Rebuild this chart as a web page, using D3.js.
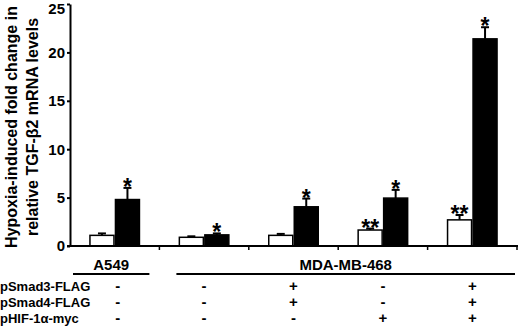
<!DOCTYPE html>
<html>
<head>
<meta charset="utf-8">
<script src="https://cdn.jsdelivr.net/npm/d3@7"></script>
<style>
  body { margin: 0; background: #fff; }
  svg text { font-family: "Liberation Sans", Arial, sans-serif; font-weight: bold; }
</style>
</head>
<body>
<svg id="chart" width="520" height="330"></svg>
<script>
// conditions (one bar pair each)
const groups = ["A549", "MDA-1", "MDA-2", "MDA-3", "MDA-4"];
const normoxia = [1.1, 0.9, 1.1, 1.65, 2.7];
const normoxiaErr = [0.2, 0.1, 0.15, 0.15, 0.5];
const hypoxia = [4.8, 1.15, 4.05, 4.95, 21.4];
const hypoxiaErr = [1.2, 0.15, 0.85, 0.85, 1.2];
const normoxiaSig = ["", "", "", "**", "**"];
const hypoxiaSig = ["*", "*", "*", "*", "*"];
const yTicks = [0, 5, 10, 15, 20, 25];

// table under the chart
const rowLabels = ["pSmad3-FLAG", "pSmad4-FLAG", "pHIF-1\u03b1-myc"];
const smad3 = ["-", "-", "+", "-", "+"];
const smad4 = ["-", "-", "+", "-", "+"];
const hif = ["-", "-", "-", "+", "+"];
const cellLines = [
    {name: "A549", from: 0, to: 0},
    {name: "MDA-MB-468", from: 1, to: 4}
];

const svg = d3.select("#chart");
const plotLeft = 70, plotRight = 517, plotTop = 4, plotBottom = 246;

const x = d3.scaleBand().domain(groups).range([plotLeft, plotRight]);
const bw = x.bandwidth();
const pairW = 51;
const x1 = d3.scaleBand().domain(["n", "h"]).range([(bw - pairW) / 2, (bw + pairW) / 2]);
const y = d3.scaleLinear().domain([0, 25]).range([plotBottom, plotTop]);

// data rows for bars
let bars = [];
groups.forEach(function(g, i) {
    bars.push({g: g, k: "n", v: normoxia[i], e: normoxiaErr[i], s: normoxiaSig[i]});
    bars.push({g: g, k: "h", v: hypoxia[i], e: hypoxiaErr[i], s: hypoxiaSig[i]});
});

// error bars (upper only)
let err = svg.append("g").attr("stroke", "#000").attr("stroke-width", 2);
err.selectAll("line.v").data(bars).join("line")
    .attr("class", "v")
    .attr("x1", d => x(d.g) + x1(d.k) + x1.bandwidth() / 2)
    .attr("x2", d => x(d.g) + x1(d.k) + x1.bandwidth() / 2)
    .attr("y1", d => y(d.v))
    .attr("y2", d => y(d.v + d.e));
err.selectAll("line.c").data(bars).join("line")
    .attr("class", "c")
    .attr("x1", d => x(d.g) + x1(d.k) + x1.bandwidth() / 2 - 4)
    .attr("x2", d => x(d.g) + x1(d.k) + x1.bandwidth() / 2 + 4)
    .attr("y1", d => y(d.v + d.e))
    .attr("y2", d => y(d.v + d.e));

svg.append("g").selectAll("rect").data(bars).join("rect")
    .attr("x", d => x(d.g) + x1(d.k) + 0.75)
    .attr("y", d => y(d.v))
    .attr("width", x1.bandwidth() - 1.5)
    .attr("height", d => y(0) - y(d.v))
    .attr("fill", d => d.k === "n" ? "#fff" : "#000")
    .attr("stroke", "#000")
    .attr("stroke-width", 1.5);

// significance stars
svg.append("g").selectAll("text").data(bars.filter(d => d.s)).join("text")
    .attr("x", d => x(d.g) + x1(d.k) + x1.bandwidth() / 2)
    .attr("y", d => y(d.v + d.e) + 7)
    .attr("text-anchor", "middle")
    .attr("font-size", 23)
    .text(d => d.s);

// y axis
let yAxis = svg.append("g")
    .attr("transform", `translate(${plotLeft},0)`)
    .call(d3.axisLeft(y).tickValues(yTicks).tickSize(3).tickSizeOuter(0).tickPadding(2));
yAxis.select(".domain").attr("stroke-width", 2);
yAxis.selectAll(".tick line").attr("stroke-width", 2);
yAxis.selectAll(".tick text")
    .attr("font-size", 15)
    .attr("fill", "#000")
    .attr("dy", d => d === 25 ? "0.66em" : "0.32em");

// x axis line with group boundary ticks
svg.append("line")
    .attr("x1", plotLeft - 3).attr("x2", plotRight + 1)
    .attr("y1", y(0)).attr("y2", y(0))
    .attr("stroke", "#000").attr("stroke-width", 2);
svg.append("g").selectAll("line").data(groups).join("line")
    .attr("x1", d => x(d) + bw).attr("x2", d => x(d) + bw)
    .attr("y1", y(0)).attr("y2", y(0) + 4)
    .attr("stroke", "#000").attr("stroke-width", 1.5);

// y label
let yl = svg.append("text")
    .attr("transform", "translate(17,127) rotate(-90)")
    .attr("text-anchor", "middle")
    .attr("font-size", 16);
yl.append("tspan").attr("x", 0).attr("dy", 0).text("Hypoxia-induced fold change in");
yl.append("tspan").attr("x", 0).attr("dy", 21).text("relative TGF-\u03b22 mRNA levels");

// cell line headers
cellLines.forEach(function(c) {
    let x0 = x(groups[c.from]) + (c.from === 0 ? 3 : 17);
    let xEnd = x(groups[c.to]) + bw - (c.from === 0 ? 10 : 2);
    svg.append("line")
        .attr("x1", x0).attr("x2", xEnd)
        .attr("y1", 274).attr("y2", 274)
        .attr("stroke", "#000").attr("stroke-width", 2);
    svg.append("text")
        .attr("x", (x0 + xEnd) / 2)
        .attr("y", 270)
        .attr("text-anchor", "middle")
        .attr("font-size", 15)
        .text(c.name);
});

// treatment rows
const rows = [smad3, smad4, hif];
const rowY = [291, 307, 323];
rows.forEach(function(r, ri) {
    svg.append("text")
        .attr("x", 0).attr("y", rowY[ri])
        .attr("font-size", 13)
        .text(rowLabels[ri]);
    svg.append("g").selectAll("text").data(r).join("text")
        .attr("x", (d, i) => x(groups[i]) + bw / 2 + (i === 0 ? 3 : 0))
        .attr("y", rowY[ri])
        .attr("text-anchor", "middle")
        .attr("font-size", 15)
        .text(d => d);
});
</script>
</body>
</html>
